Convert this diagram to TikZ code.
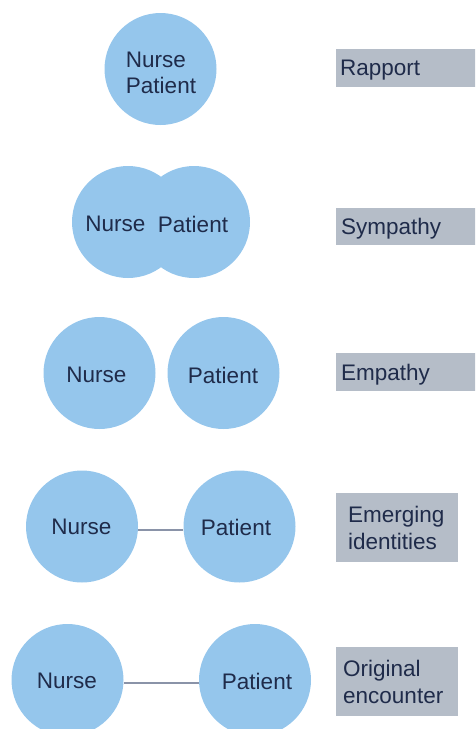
\documentclass[tikz,border=0pt]{standalone}
\usepackage{fontspec}
\setmainfont{Liberation Sans}
\definecolor{circblue}{HTML}{95C6EC}
\definecolor{boxgray}{HTML}{B5BDC8}
\definecolor{navy}{HTML}{1F2B4A}
\definecolor{linkgray}{HTML}{8A93A8}
\tikzset{
  person/.style={circle, fill=circblue, draw=none, minimum size=112pt, inner sep=0pt},
  txt/.style={text=navy, font=\fontsize{22.5}{26.5}\selectfont, inner sep=0pt},
  stage/.style={rectangle, fill=boxgray, draw=none, text=navy, font=\fontsize{22.5}{26.5}\selectfont, align=left, anchor=north west, inner ysep=0pt},
  oneline/.style={text depth=0pt},
  link/.style={draw=linkgray, line width=1.2pt}
}
\begin{document}
\begin{tikzpicture}[x=1pt, y=-1pt]
\useasboundingbox (0,0) rectangle (475,729);
\clip (0,0) rectangle (475,729);
% Rapport
\node[person] (c1) at (160.5,69) {};
\node[txt, align=left] (t1) at (161,73) {Nurse\\Patient};
\node[stage, oneline, minimum height=38pt, text width=136pt, inner xsep=4pt] (s1) at (336,49) {Rapport};
% Sympathy
\node[person] (n2) at (128,222) {};
\node[person] (p2) at (194,222) {};
\node[txt] (tn2) at (115.5,224) {Nurse};
\node[txt] (tp2) at (193,224) {Patient};
\node[stage, oneline, minimum height=37pt, text width=136pt, inner xsep=5pt] (s2) at (336,208) {Sympathy};
% Empathy
\node[person] (n3) at (99.5,373) {};
\node[person] (p3) at (223.5,373) {};
\node[txt] (tn3) at (96.5,375) {Nurse};
\node[txt] (tp3) at (223,375) {Patient};
\node[stage, oneline, minimum height=38pt, text width=136pt, inner xsep=5pt] (s3) at (336,353) {Empathy};
% Emerging identities
\node[person] (n4) at (82,526.5) {};
\node[person] (p4) at (239.5,526.5) {};
\draw[link] ([yshift=-3.5pt]n4.east) -- ([yshift=-3.5pt]p4.west);
\node[txt] (tn4) at (81.5,527) {Nurse};
\node[txt] (tp4) at (236,527) {Patient};
\node[stage, minimum height=69pt, text width=98pt, inner xsep=12pt] (s4) at (336,493) {Emerging\\identities};
% Original encounter
\node[person] (n5) at (67.5,680) {};
\node[person] (p5) at (255,680) {};
\draw[link] ([yshift=-3pt]n5.east) -- ([yshift=-3pt]p5.west);
\node[txt] (tn5) at (67,681) {Nurse};
\node[txt] (tp5) at (257,681) {Patient};
\node[stage, minimum height=69pt, text width=108pt, inner xsep=7pt] (s5) at (336,647) {Original\\encounter};
\end{tikzpicture}
\end{document}
